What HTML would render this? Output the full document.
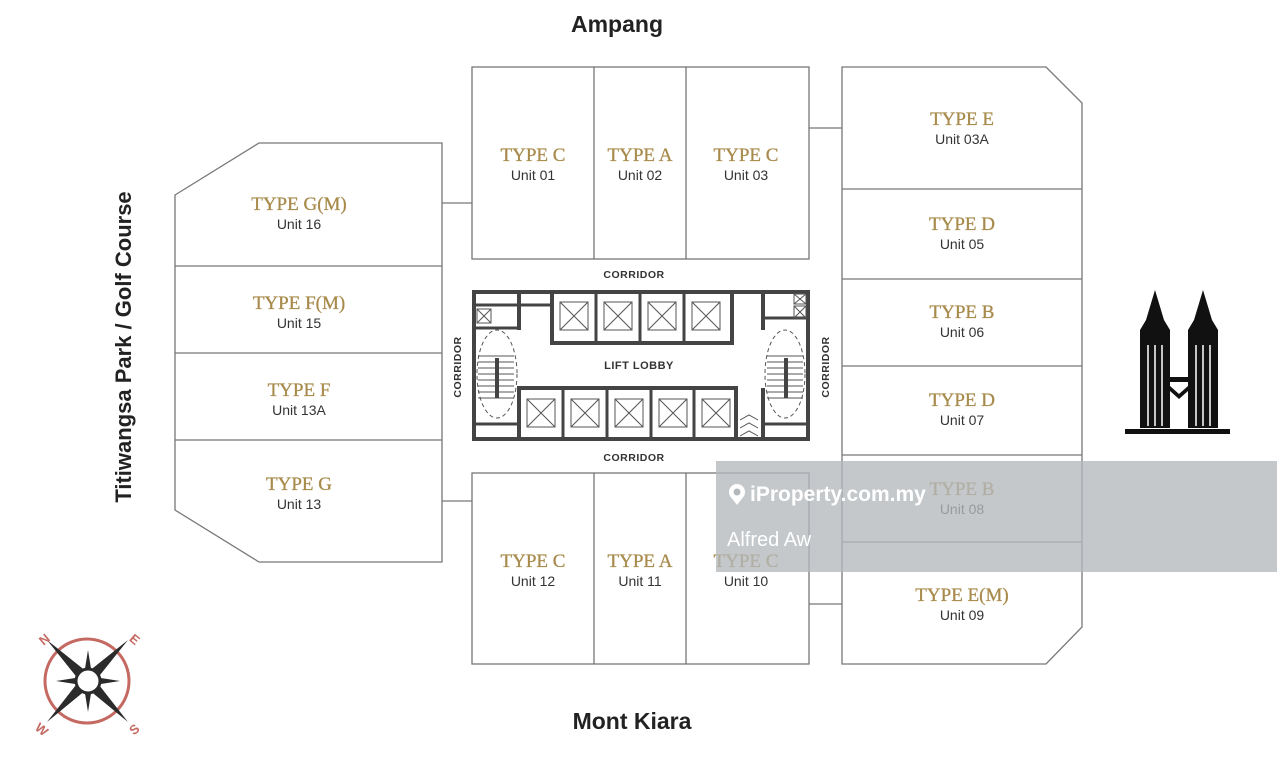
<!DOCTYPE html>
<html><head><meta charset="utf-8"><style>
html,body{margin:0;padding:0;background:#fff;}
svg{display:block}
.t{font-family:"Liberation Serif",serif;font-size:19px;fill:#a88b4c;text-anchor:middle;stroke:#a88b4c;stroke-width:0.3}
.u{font-family:"Liberation Sans",sans-serif;font-size:14px;fill:#333;text-anchor:middle}
.c{font-family:"Liberation Sans",sans-serif;font-size:10.5px;font-weight:bold;fill:#333;text-anchor:middle;letter-spacing:0.5px}
.h{font-family:"Liberation Sans",sans-serif;font-size:23px;font-weight:bold;fill:#222;text-anchor:middle}
</style></head><body>
<svg width="1277" height="769" viewBox="0 0 1277 769" xmlns="http://www.w3.org/2000/svg">
<g fill="none" stroke="#777" stroke-width="1.3">
<rect x="472" y="67" width="337" height="192"/>
<line x1="594" y1="67" x2="594" y2="259"/><line x1="686" y1="67" x2="686" y2="259"/>
<rect x="472" y="473" width="337" height="191"/>
<line x1="594" y1="473" x2="594" y2="664"/><line x1="686" y1="473" x2="686" y2="664"/>
<polygon points="175,195 259,143 442,143 442,562 259,562 175,510"/>
<line x1="175" y1="266" x2="442" y2="266"/><line x1="175" y1="353" x2="442" y2="353"/><line x1="175" y1="440" x2="442" y2="440"/>
<line x1="442" y1="203" x2="472" y2="203"/><line x1="442" y1="501" x2="472" y2="501"/>
<polygon points="842,67 1046,67 1082,103 1082,627 1046,664 842,664"/>
<line x1="842" y1="189" x2="1082" y2="189"/><line x1="842" y1="279" x2="1082" y2="279"/><line x1="842" y1="366" x2="1082" y2="366"/><line x1="842" y1="455" x2="1082" y2="455"/><line x1="842" y1="542" x2="1082" y2="542"/>
<line x1="809" y1="128" x2="842" y2="128"/><line x1="809" y1="604" x2="842" y2="604"/>
</g>
<text class="t" x="533" y="161">TYPE C</text><text class="u" x="533" y="180">Unit 01</text>
<text class="t" x="640" y="161">TYPE A</text><text class="u" x="640" y="180">Unit 02</text>
<text class="t" x="746" y="161">TYPE C</text><text class="u" x="746" y="180">Unit 03</text>
<text class="t" x="533" y="567">TYPE C</text><text class="u" x="533" y="586">Unit 12</text>
<text class="t" x="640" y="567">TYPE A</text><text class="u" x="640" y="586">Unit 11</text>
<text class="t" x="746" y="567">TYPE C</text><text class="u" x="746" y="586">Unit 10</text>
<text class="t" x="299" y="210">TYPE G(M)</text><text class="u" x="299" y="229">Unit 16</text>
<text class="t" x="299" y="309">TYPE F(M)</text><text class="u" x="299" y="328">Unit 15</text>
<text class="t" x="299" y="396">TYPE F</text><text class="u" x="299" y="415">Unit 13A</text>
<text class="t" x="299" y="490">TYPE G</text><text class="u" x="299" y="509">Unit 13</text>
<text class="t" x="962" y="125">TYPE E</text><text class="u" x="962" y="144">Unit 03A</text>
<text class="t" x="962" y="230">TYPE D</text><text class="u" x="962" y="249">Unit 05</text>
<text class="t" x="962" y="318">TYPE B</text><text class="u" x="962" y="337">Unit 06</text>
<text class="t" x="962" y="406">TYPE D</text><text class="u" x="962" y="425">Unit 07</text>
<text class="t" x="962" y="495">TYPE B</text><text class="u" x="962" y="514">Unit 08</text>
<text class="t" x="962" y="601">TYPE E(M)</text><text class="u" x="962" y="620">Unit 09</text>
<text class="c" x="634" y="278">CORRIDOR</text>
<text class="c" x="634" y="461">CORRIDOR</text>
<text class="c" transform="translate(461,367) rotate(-90)">CORRIDOR</text>
<text class="c" transform="translate(829,367) rotate(-90)">CORRIDOR</text>
<text class="c" x="639" y="369" style="font-size:11px">LIFT LOBBY</text>
<text class="h" x="617" y="32">Ampang</text>
<text class="h" x="632" y="729">Mont Kiara</text>
<text class="h" transform="translate(131,347) rotate(-90)" style="font-size:22px">Titiwangsa Park / Golf Course</text>
<g stroke="#444" fill="none">
<rect x="474" y="292" width="334" height="147" stroke-width="4"/>
<path d="M519,292 V330 M519,388 V439 M763,292 V330 M763,388 V439" stroke-width="4"/>
<path d="M474,305 H550 M474,328 H519 M763,318 H808 M474,424 H519 M763,424 H808" stroke-width="3"/>
<rect x="552" y="292" width="180" height="51" stroke-width="4"/>
<rect x="519" y="388" width="217" height="51" stroke-width="4"/>
<path d="M596,292V343 M640,292V343 M684,292V343 M563,388V439 M607,388V439 M651,388V439 M694,388V439" stroke-width="3"/>
</g>
<g stroke="#555" stroke-width="1" fill="none">
<rect x="560" y="302" width="28" height="28"/><path d="M560,302l28,28M588,302l-28,28"/>
<rect x="604" y="302" width="28" height="28"/><path d="M604,302l28,28M632,302l-28,28"/>
<rect x="648" y="302" width="28" height="28"/><path d="M648,302l28,28M676,302l-28,28"/>
<rect x="692" y="302" width="28" height="28"/><path d="M692,302l28,28M720,302l-28,28"/>
<rect x="527" y="399" width="28" height="28"/><path d="M527,399l28,28M555,399l-28,28"/>
<rect x="571" y="399" width="28" height="28"/><path d="M571,399l28,28M599,399l-28,28"/>
<rect x="615" y="399" width="28" height="28"/><path d="M615,399l28,28M643,399l-28,28"/>
<rect x="659" y="399" width="28" height="28"/><path d="M659,399l28,28M687,399l-28,28"/>
<rect x="702" y="399" width="28" height="28"/><path d="M702,399l28,28M730,399l-28,28"/>
<ellipse cx="497" cy="374" rx="20" ry="44" stroke-dasharray="4,3"/>
<ellipse cx="785" cy="374" rx="20" ry="44" stroke-dasharray="4,3"/>
<path d="M478,356H514M478,362H514M478,368H514M478,374H514M478,380H514M478,386H514M478,392H514M478,398H514"/>
<path d="M767,356H803M767,362H803M767,368H803M767,374H803M767,380H803M767,386H803M767,392H803M767,398H803"/>
<path d="M740,420l9,-5l9,5M740,428l9,-5l9,5M740,436l9,-5l9,5"/>
<rect x="477" y="309" width="14" height="14"/><path d="M477,309l14,14M491,309l-14,14"/>
<rect x="794" y="294" width="12" height="10"/><path d="M794,294l12,10M806,294l-12,10"/>
<rect x="794" y="306" width="12" height="12"/><path d="M794,306l12,12M806,306l-12,12"/>
</g>
<g stroke="#444" stroke-width="4"><path d="M497,358V398M786,358V398"/></g>
<g fill="#111">
<rect x="1125" y="429" width="105" height="5"/>
<path d="M1155,290 l3,10 l6,20 l6,10 l0,98 h-30 v-98 l6,-10 l6,-20z"/>
<path d="M1203,290 l3,10 l6,20 l6,10 l0,98 h-30 v-98 l6,-10 l6,-20z"/>
<rect x="1170" y="377" width="18" height="5"/>
<path d="M1170,386 l9,8 l9,-8 v5 l-9,8 l-9,-8z"/>
</g>
<g stroke="#fff" stroke-width="1.5"><path d="M1148,345V426M1155,345V426M1162,345V426M1196,345V426M1203,345V426M1210,345V426"/></g>
<circle cx="87" cy="681" r="42" fill="none" stroke="#c46a63" stroke-width="3"/>
<g fill="#2b2b2b">
<polygon points="47,640 92,676 83,685"/><polygon points="128,640 92,685 83,676"/>
<polygon points="47,722 83,676 92,685"/><polygon points="128,722 83,685 92,676"/>
<polygon points="88,650 93,681 88,712 83,681"/><polygon points="56,681 88,676 120,681 88,686"/>
</g>
<circle cx="88" cy="681" r="12" fill="#fff" stroke="#2b2b2b" stroke-width="3"/>
<g font-family="Liberation Sans,sans-serif" font-weight="bold" font-size="13" fill="#c46a63" text-anchor="middle">
<text x="44" y="644" transform="rotate(-40 44 639)">N</text>
<text x="135" y="644" transform="rotate(40 135 639)">E</text>
<text x="42" y="734" transform="rotate(40 42 729)">W</text>
<text x="134" y="734" transform="rotate(-40 134 729)">S</text>
</g>
<rect x="716" y="461" width="561" height="111" fill="#b4b8bc" opacity="0.78"/>
<circle cx="737" cy="492" r="8" fill="#fff"/><path d="M730,496 L737,505 L744,496z" fill="#fff"/><circle cx="737" cy="492" r="3.5" fill="#b4b8bc"/>
<text x="750" y="501" font-family="Liberation Sans,sans-serif" font-weight="bold" font-size="21" fill="#fff">iProperty.com.my</text>
<text x="727" y="546" font-family="Liberation Sans,sans-serif" font-size="20" fill="#fff">Alfred Aw</text>
</svg>
</body></html>
